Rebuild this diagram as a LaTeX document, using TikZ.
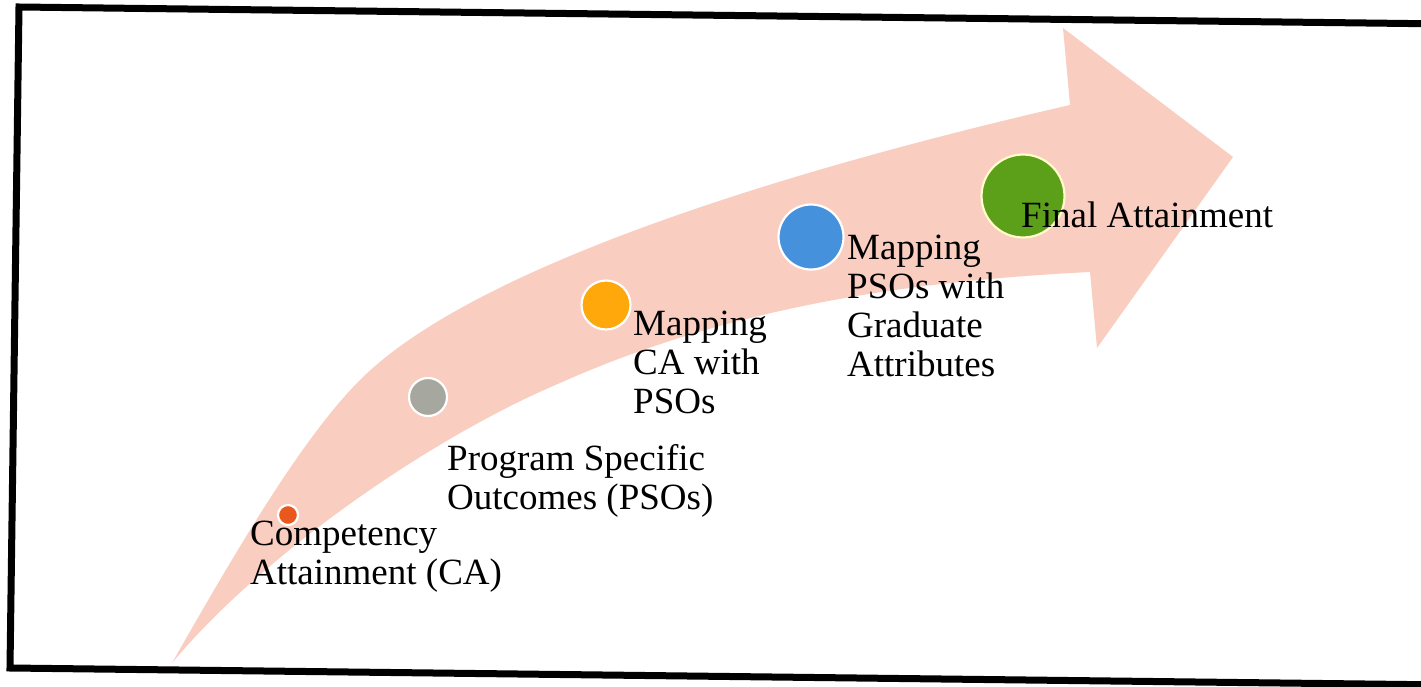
\documentclass[tikz,border=0pt]{standalone}
\usepackage{fontspec}
\setmainfont{Liberation Serif}
\definecolor{arrowpink}{RGB}{249,205,192}
\definecolor{cred}{RGB}{233,88,28}
\definecolor{cgray}{RGB}{166,167,158}
\definecolor{corange}{RGB}{254,168,12}
\definecolor{cblue}{RGB}{70,145,220}
\definecolor{cgreen}{RGB}{92,160,26}
\begin{document}
\begin{tikzpicture}[x=1pt,y=-1pt,
  dot/.style={circle, draw=white, line width=2.2pt, inner sep=0pt},
  lbl/.style={anchor=base west, inner sep=0pt, font=\fontsize{37}{39}\selectfont}]
\clip (0,0) rectangle (1421,687);
\fill[white] (0,0) rectangle (1421,687);
% curved arrow
\fill[arrowpink]
  (172,663) .. controls (232,558) and (300,440) .. (360,380)
  .. controls (470,270) and (770,174) .. (1070,105)
  -- (1063,28) -- (1233,157) -- (1097,348) -- (1090,272)
  .. controls (910,281) and (730,307) .. (560,383)
  .. controls (430,438) and (262,555) .. (172,663)
  -- cycle;
% frame
\draw[line width=7pt, line join=miter] (1450,24) -- (19,7) -- (10,668) -- (1450,685);
% dots
\node[dot, fill=cred, minimum size=20pt] (d1) at (288,515) {};
\node[dot, fill=cgray, minimum size=38pt] (d2) at (428,397) {};
\node[dot, fill=corange, minimum size=49pt] (d3) at (606,305) {};
\node[dot, fill=cblue, minimum size=65pt] (d4) at (811,237) {};
\node[dot, draw=yellow!20, fill=cgreen, minimum size=83pt] (d5) at (1023,196) {};
% labels
\node[lbl] (t1) at (250,545) {\begin{tabular}[t]{@{}l@{}}Competency\\Attainment (CA)\end{tabular}};
\node[lbl] (t2) at (447,470) {\begin{tabular}[t]{@{}l@{}}Program Specific\\Outcomes (PSOs)\end{tabular}};
\node[lbl] (t3) at (633,335) {\begin{tabular}[t]{@{}l@{}}Mapping\\CA with\\PSOs\end{tabular}};
\node[lbl] (t4) at (847,259) {\begin{tabular}[t]{@{}l@{}}Mapping\\PSOs with\\Graduate\\Attributes\end{tabular}};
\node[lbl] (t5) at (1021,227) {Final Attainment};
\end{tikzpicture}
\end{document}
